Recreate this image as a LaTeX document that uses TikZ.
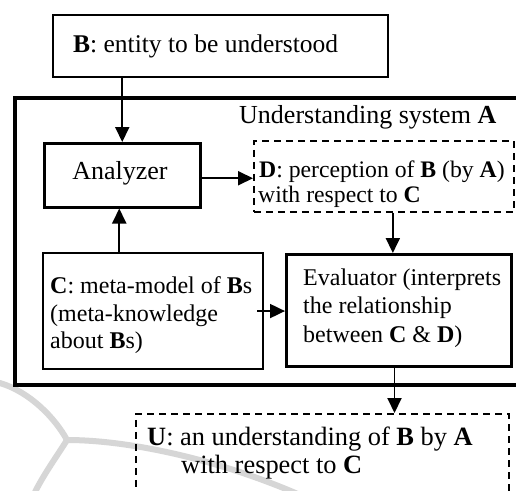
\documentclass[tikz,border=0pt]{standalone}
\usepackage{fontspec}
\setmainfont{Liberation Serif}
\usetikzlibrary{arrows.meta}
\newcommand\setfs[1]{\fontsize{#1}{#1}\selectfont}
\begin{document}
\begin{tikzpicture}[x=1pt,y=-1pt,
  box/.style={draw, line width=#1, inner sep=0pt, anchor=north west},
  dbox/.style={draw, line width=1.7pt, dash pattern=on 7pt off 5pt, inner sep=0pt, anchor=north west},
  txt/.style={anchor=base west, inner sep=0pt},
  arr/.style={line width=1.9pt, -{Triangle[length=15pt,width=14pt]}},
  wm/.style={line width=6pt, draw=black!16, line cap=round}
]
\clip (0,0) rectangle (516,490);
\fill[white] (0,0) rectangle (516,490);

% faint background curves
\draw[wm] (0,383) .. controls (30,392) and (55,418) .. (67,440);
\draw[wm] (67,440) .. controls (57,456) and (44,474) .. (35,492);
\draw[wm] (67,440) .. controls (130,440) and (220,460) .. (300,495);

% boxes
\node[box=2.1pt, minimum width=335pt, minimum height=62pt] (Bbox) at (52,14) {};
\node[box=4pt, minimum width=530pt, minimum height=287pt] (Abox) at (13,96) {};
\node[box=2.5pt, minimum width=156pt, minimum height=64pt] (Anlz) at (43,142) {};
\node[dbox, minimum width=260pt, minimum height=71pt] (Dbox) at (253,140) {};
\node[box=2.1pt, minimum width=220pt, minimum height=116pt] (Cbox) at (42,252) {};
\node[box=3pt, minimum width=225pt, minimum height=112pt] (Eval) at (285,253) {};
\node[dbox, minimum width=373pt, minimum height=100pt] (Ubox) at (135,413) {};

% texts
\node[txt] (tB) at (73,52) {\setfs{25.5}\textbf{B}: entity to be understood};
\node[txt] (tA) at (239,123) {\setfs{26}Understanding system \textbf{A}};
\node[anchor=base, inner sep=0pt] (tAn) at (120,179) {\setfs{26}Analyzer};
\node[txt] (tD1) at (259,177) {\setfs{23.7}\textbf{D}: perception of \textbf{B} (by \textbf{A})};
\node[txt] (tD2) at (258,202) {\setfs{23.7}with respect to \textbf{C}};
\node[txt] (tC1) at (50,293) {\setfs{24}\textbf{C}: meta-model of \textbf{B}s};
\node[txt] (tC2) at (50,321) {\setfs{24}(meta-knowledge};
\node[txt] (tC3) at (50,348) {\setfs{24}about \textbf{B}s)};
\node[txt] (tE1) at (303,285) {\setfs{24}Evaluator (interprets};
\node[txt] (tE2) at (303,313) {\setfs{24}the relationship};
\node[txt] (tE3) at (303,342) {\setfs{24}between \textbf{C} \& \textbf{D})};
\node[txt] (tU1) at (147,445) {\setfs{26.4}\textbf{U}: an understanding of \textbf{B} by \textbf{A}};
\node[txt] (tU2) at (181,473) {\setfs{26.4}with respect to \textbf{C}};

% connectors
\coordinate (a1) at (Anlz.north);
\draw[arr] (Bbox.south -| a1) -- (a1);
\coordinate (a2) at ([yshift=-3pt]Anlz.east);
\draw[arr] (a2) -- (a2 -| Dbox.west);
\coordinate (a3) at ([xshift=-3pt]Anlz.south);
\draw[arr] (Cbox.north -| a3) -- (a3);
\coordinate (d1) at ([xshift=9pt]Dbox.south);
\draw[arr] (d1) -- (d1 |- Eval.north);
\coordinate (c1) at ([xshift=-7pt]Cbox.east);
\draw[arr] (c1) -- (c1 -| Eval.west);
\coordinate (e1) at ([xshift=-4.5pt]Eval.south);
\draw[arr] (e1) -- (e1 |- Ubox.north);
\end{tikzpicture}
\end{document}
